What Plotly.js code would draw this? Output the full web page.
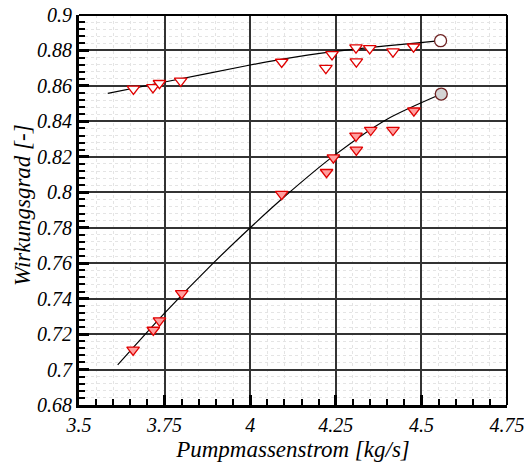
<!DOCTYPE html>
<html>
<head>
<meta charset="utf-8">
<script src="https://cdn.plot.ly/plotly-3.0.1.min.js"></script>
<style>html,body{margin:0;padding:0;background:#fff;}#chart{width:524px;height:462px;}</style>
</head>
<body>
<div id="chart"></div>
<script>
// Upper series (open triangles)
const upperX = [3.659, 3.716, 3.735, 3.797, 4.092, 4.221, 4.239, 4.309, 4.310, 4.349, 4.417, 4.477];
const upperY = [0.8583, 0.8592, 0.8615, 0.8628, 0.8735, 0.8700, 0.8778, 0.8816, 0.8737, 0.8812, 0.8793, 0.8821];
// Lower series (filled triangles)
const lowerX = [3.658, 3.717, 3.735, 3.800, 4.092, 4.223, 4.243, 4.310, 4.309, 4.352, 4.417, 4.478];
const lowerY = [0.7111, 0.7223, 0.7276, 0.7430, 0.7989, 0.8113, 0.8195, 0.8239, 0.8318, 0.8351, 0.8351, 0.8460];
// Design points (circles)
const upperCircleX = [4.556];
const upperCircleY = [0.8855];
const lowerCircleX = [4.558];
const lowerCircleY = [0.8554];
// Fit curves
const upperFitX = [3.584, 3.75, 4.0, 4.086, 4.241, 4.556];
const upperFitY = [0.8558, 0.8622, 0.8718, 0.8748, 0.8793, 0.8855];
const lowerFitX = [3.613, 3.75, 3.892, 4.0, 4.103, 4.241, 4.396, 4.558];
const lowerFitY = [0.7026, 0.7318, 0.7600, 0.7800, 0.7980, 0.8201, 0.8408, 0.8554];
// Ticks
const xTickVals = [3.5, 3.75, 4, 4.25, 4.5, 4.75];
const xTickText = ['3.5', '3.75', '4', '4.25', '4.5', '4.75'];
const yTickVals = [0.68, 0.7, 0.72, 0.74, 0.76, 0.78, 0.8, 0.82, 0.84, 0.86, 0.88, 0.9];
const yTickText = ['0.68', '0.7', '0.72', '0.74', '0.76', '0.78', '0.8', '0.82', '0.84', '0.86', '0.88', '0.9'];

const FAM = 'Liberation Serif, serif';
const tickFont = {family: FAM, size: 20, color: 'black', style: 'italic'};
const titleFont = {family: FAM, size: 23, color: 'black', style: 'italic'};

const traces = [
  {x: upperFitX, y: upperFitY, mode: 'lines', line: {color: '#000', width: 1.2, shape: 'spline', smoothing: 0.8}, hoverinfo: 'skip'},
  {x: lowerFitX, y: lowerFitY, mode: 'lines', line: {color: '#000', width: 1.2, shape: 'spline', smoothing: 0.8}, hoverinfo: 'skip'},
  {x: upperX, y: upperY, mode: 'markers', marker: {symbol: 'triangle-down', size: 11, color: '#ffffff', line: {color: '#e00000', width: 1.3}}},
  {x: lowerX, y: lowerY, mode: 'markers', marker: {symbol: 'triangle-down', size: 11, color: '#ff9f9f', line: {color: '#e00000', width: 1.3}}},
  {x: upperCircleX, y: upperCircleY, mode: 'markers', marker: {symbol: 'circle', size: 12, color: '#ffffff', line: {color: '#6e2222', width: 1.3}}},
  {x: lowerCircleX, y: lowerCircleY, mode: 'markers', marker: {symbol: 'circle', size: 12, color: '#d4d4d4', line: {color: '#6e2222', width: 1.3}}}
];

const layout = {
  width: 524, height: 462,
  margin: {l: 79, r: 17, t: 15, b: 57, pad: 0},
  paper_bgcolor: '#fff', plot_bgcolor: '#fff',
  showlegend: false,
  font: {family: FAM, size: 18, color: 'black'},
  xaxis: {
    range: [3.5, 4.75], tickmode: 'array', tickvals: xTickVals, ticktext: xTickText,
    ticks: 'inside', ticklen: 10, tickwidth: 3, tickcolor: '#000',
    showline: true, linewidth: 3, linecolor: '#000', mirror: false,
    showgrid: true, gridcolor: '#333', gridwidth: 1.5, zeroline: false,
    tickfont: tickFont, ticklabeloverflow: 'allow', automargin: false,
    title: {text: 'Pumpmassenstrom [kg/s]', font: titleFont, standoff: 6},
    minor: {dtick: 0.05, tick0: 3.5, ticks: 'inside', ticklen: 6, tickwidth: 1.5, tickcolor: '#000', showgrid: true, gridcolor: '#e4e4e4', griddash: 'dot', gridwidth: 1}
  },
  yaxis: {
    range: [0.68, 0.9], tickmode: 'array', tickvals: yTickVals, ticktext: yTickText,
    ticks: 'inside', ticklen: 10, tickwidth: 3, tickcolor: '#000',
    showline: true, linewidth: 3, linecolor: '#000', mirror: false,
    showgrid: true, gridcolor: '#333', gridwidth: 1.5, zeroline: false,
    tickfont: tickFont, ticklabeloverflow: 'allow', automargin: false,
    minor: {dtick: 0.004, tick0: 0.68, ticks: 'inside', ticklen: 6, tickwidth: 1.5, tickcolor: '#000', showgrid: true, gridcolor: '#e4e4e4', griddash: 'dot', gridwidth: 1}
  },
  shapes: [
    {type: 'line', xref: 'paper', yref: 'paper', x0: 0, x1: 1, y0: 1, y1: 1, line: {color: '#000', width: 2}},
    {type: 'line', xref: 'paper', yref: 'paper', x0: 1, x1: 1, y0: 0, y1: 1, line: {color: '#000', width: 2}}
  ],
  annotations: [
    {text: 'Wirkungsgrad [-]', xref: 'paper', yref: 'paper', x: 0, y: 0.5, xshift: -57, yshift: 5, textangle: -90, showarrow: false, font: titleFont, xanchor: 'center', yanchor: 'middle'}
  ]
};

Plotly.newPlot('chart', traces, layout, {displayModeBar: false});
</script>
</body>
</html>
